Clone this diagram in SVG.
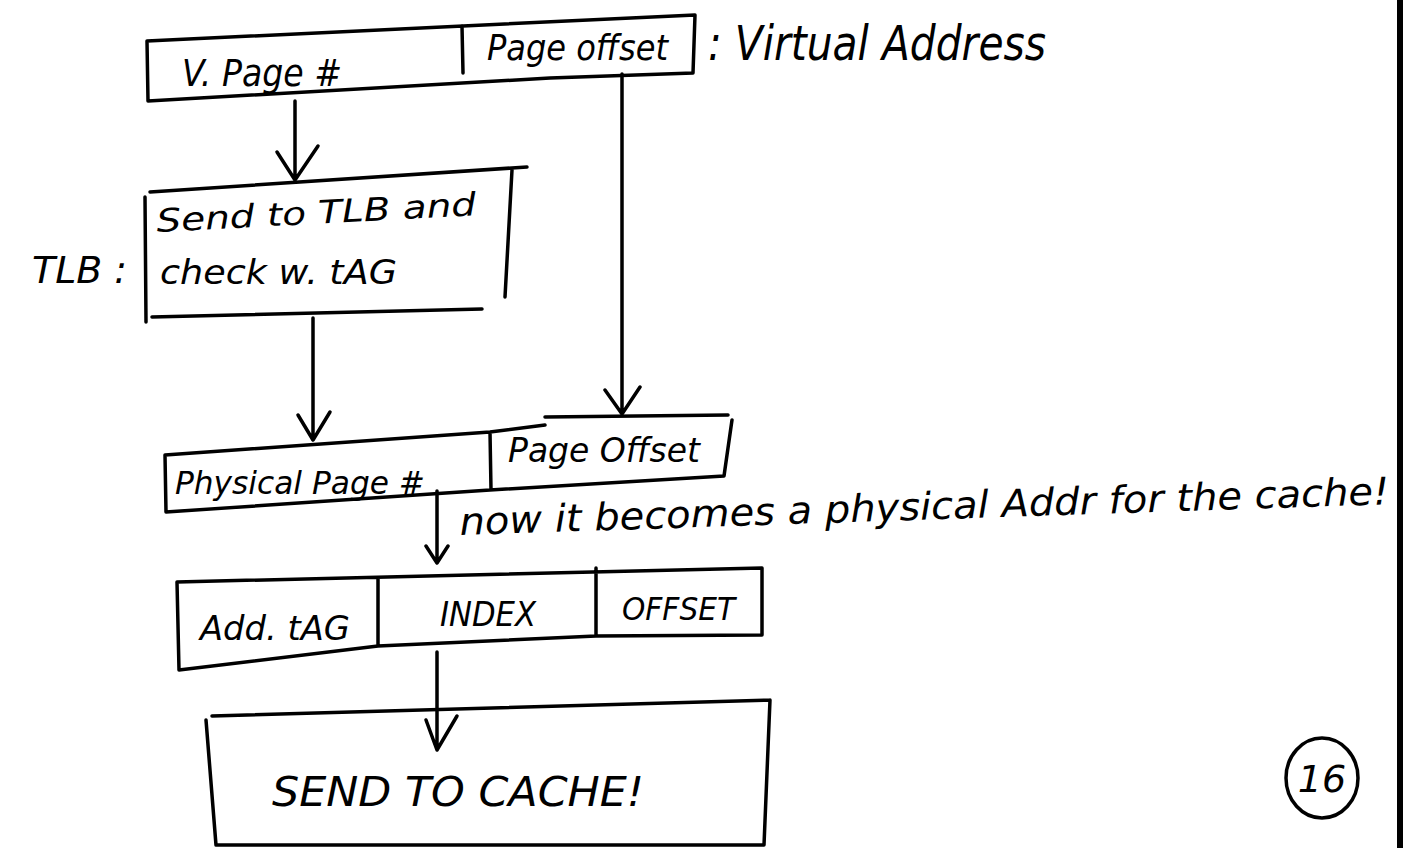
<svg xmlns="http://www.w3.org/2000/svg" width="1403" height="848" viewBox="0 0 1403 848">
  <style>
    .ln { fill: none; stroke: #000; stroke-width: 3.5; stroke-linecap: round; stroke-linejoin: round; }
    .hw { font-family: "DejaVu Sans", "Liberation Sans", sans-serif; fill: #000; font-style: oblique; }
  </style>
  <rect width="1403" height="848" fill="#fff"/>

  <!-- virtual address register -->
  <g id="virtual-address">
    <path class="ln" d="M147,41 L695,15 M147,41 L148,101 L550,78 L693,73 L695,15 M462,26 L463,73"/>
    <text class="hw" x="182" y="86" font-size="38" textLength="160" lengthAdjust="spacingAndGlyphs">V. Page #</text>
    <text class="hw" x="487" y="60" font-size="36" textLength="181" lengthAdjust="spacingAndGlyphs">Page offset</text>
    <text class="hw" x="708" y="60" font-size="48" textLength="338" lengthAdjust="spacingAndGlyphs">: Virtual Address</text>
  </g>

  <!-- TLB lookup -->
  <g id="tlb">
    <path class="ln" d="M150,192 L527,167 M145,197 L146,322 M512,170 L505,297 M152,317 L482,309"/>
    <text class="hw" x="32" y="283" font-size="38" textLength="95" lengthAdjust="spacingAndGlyphs">TLB :</text>
    <text class="hw" x="157" y="232" font-size="32" textLength="320" lengthAdjust="spacingAndGlyphs" transform="rotate(-3 157 232)">Send to TLB and</text>
    <text class="hw" x="160" y="284" font-size="34" textLength="237" lengthAdjust="spacingAndGlyphs">check w. tAG</text>
  </g>

  <!-- physical address -->
  <g id="physical-address">
    <path class="ln" d="M165,455 L490,432 L545,425 M545,417 L728,415 M165,455 L166,512 L490,490 L724,476 L732,420 M490,432 L491,490"/>
    <text class="hw" x="175" y="494" font-size="32" textLength="250" lengthAdjust="spacingAndGlyphs">Physical Page #</text>
    <text class="hw" x="508" y="462" font-size="34" textLength="192" lengthAdjust="spacingAndGlyphs">Page Offset</text>
  </g>

  <text id="note" class="hw" x="460" y="535" font-size="38" textLength="930" lengthAdjust="spacingAndGlyphs" transform="rotate(-1.9 460 535)">now it becomes a physical Addr for the cache!</text>

  <!-- cache address split -->
  <g id="cache-address">
    <path class="ln" d="M177,582 L762,568 M177,582 L179,670 L378,646 L596,636 L762,635 L762,568 M378,578 L378,646 M596,568 L596,636"/>
    <text class="hw" x="200" y="640" font-size="34" textLength="150" lengthAdjust="spacingAndGlyphs">Add. tAG</text>
    <text class="hw" x="440" y="626" font-size="34" textLength="96" lengthAdjust="spacingAndGlyphs">INDEX</text>
    <text class="hw" x="622" y="620" font-size="32" textLength="113" lengthAdjust="spacingAndGlyphs">OFFSET</text>
  </g>

  <!-- cache -->
  <g id="cache">
    <path class="ln" d="M212,716 L770,700 M206,720 L216,845 L764,845 L770,700"/>
    <text class="hw" x="272" y="806" font-size="40" textLength="372" lengthAdjust="spacingAndGlyphs">SEND TO CACHE!</text>
  </g>

  <g id="page-number">
    <ellipse class="ln" cx="1322" cy="778" rx="36" ry="40"/>
    <text class="hw" x="1322" y="792" font-size="38" text-anchor="middle">16</text>
  </g>

  <!-- arrows -->
  <g id="connectors" class="ln">
    <path d="M295,101 L295,180 M277,152 L295,180 L318,146"/>
    <path d="M622,74 L622,413 M605,390 L622,414 L640,387"/>
    <path d="M313,318 L313,440 M298,415 L313,440 L330,412"/>
    <path d="M437,491 L437,563 M426,546 L437,563 L448,546"/>
    <path d="M437,652 L437,750 M426,720 L437,750 L457,716"/>
  </g>

  <rect x="1397" y="0" width="6" height="848" fill="#000"/>
</svg>
